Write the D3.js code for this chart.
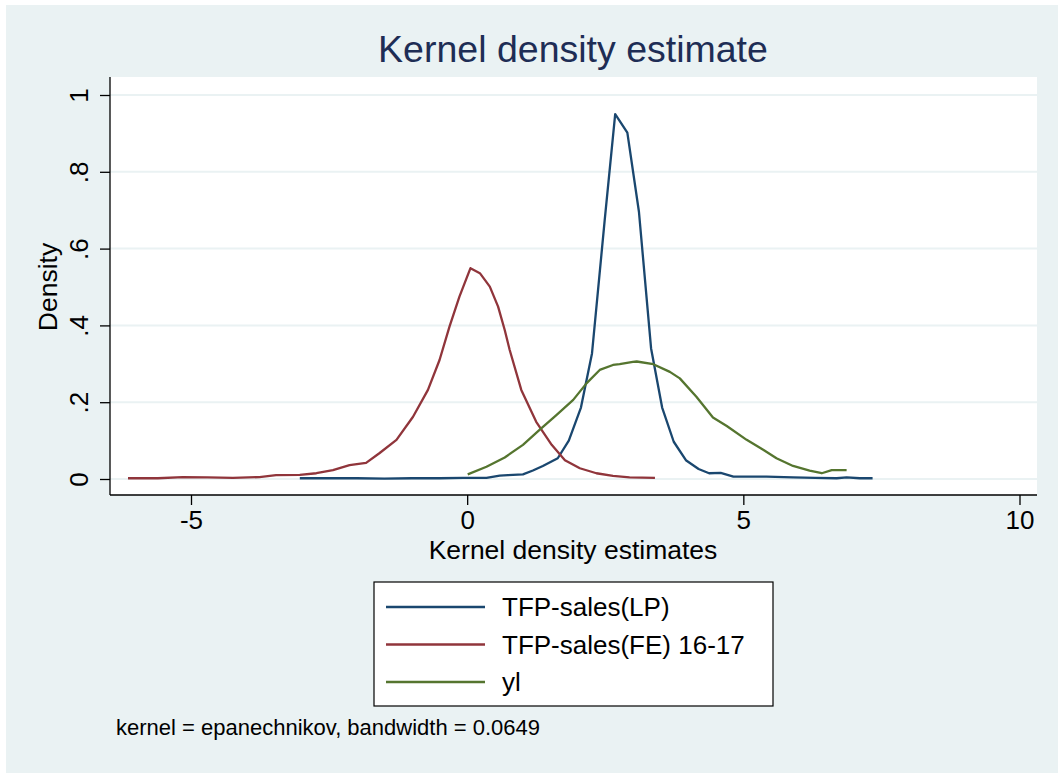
<html>
  <head>
    <meta charset="utf-8">
    <style>
      body { margin: 0; background: #ffffff; }
      text { font-family: 'Liberation Sans', Arial, sans-serif; }
    </style>
  </head>
  <body>
    <script src="https://d3js.org/d3.v7.min.js"></script>

    <svg id="kdensity" width="1058" height="773"></svg>

    <script>
      // density curves, [x, density]
      const lpCurve = [
        [-3.03, 0.002], [-2.5, 0.002], [-2.0, 0.002], [-1.5, 0.001], [-1.0, 0.002],
        [-0.5, 0.002], [-0.08, 0.003], [0.35, 0.003], [0.59, 0.009], [0.74, 0.01],
        [1.01, 0.012], [1.19, 0.022], [1.37, 0.034], [1.64, 0.054], [1.84, 0.1],
        [2.06, 0.186], [2.26, 0.327], [2.49, 0.674], [2.68, 0.95], [2.9, 0.902],
        [3.11, 0.696], [3.33, 0.34], [3.53, 0.186], [3.74, 0.097], [3.96, 0.049],
        [4.19, 0.026], [4.38, 0.015], [4.59, 0.016], [4.82, 0.006], [5.42, 0.006],
        [5.9, 0.004], [6.3, 0.003], [6.69, 0.002], [6.87, 0.004], [7.11, 0.002],
        [7.34, 0.002],
      ];
      const feCurve = [
        [-6.14, 0.002], [-5.6, 0.002], [-5.15, 0.005], [-4.7, 0.004], [-4.24, 0.003],
        [-3.76, 0.005], [-3.46, 0.01], [-3.03, 0.011], [-2.73, 0.015], [-2.43, 0.023],
        [-2.13, 0.036], [-1.83, 0.042], [-1.59, 0.067], [-1.28, 0.102], [-0.98, 0.162],
        [-0.71, 0.232], [-0.5, 0.31], [-0.32, 0.397], [-0.14, 0.475], [0.0, 0.527],
        [0.06, 0.549], [0.23, 0.536], [0.41, 0.501], [0.56, 0.449], [0.68, 0.388],
        [0.77, 0.336], [0.98, 0.232], [1.25, 0.149], [1.53, 0.089], [1.77, 0.049],
        [2.04, 0.028], [2.34, 0.015], [2.64, 0.008], [2.94, 0.004], [3.4, 0.003],
      ];
      const ylCurve = [
        [0.01, 0.012], [0.35, 0.032], [0.68, 0.056], [1.01, 0.089], [1.31, 0.128],
        [1.62, 0.167], [1.92, 0.206], [2.16, 0.249], [2.4, 0.284], [2.64, 0.297],
        [2.76, 0.299], [3.0, 0.305], [3.07, 0.306], [3.37, 0.299], [3.67, 0.279],
        [3.85, 0.262], [4.15, 0.214], [4.45, 0.16], [4.7, 0.138], [5.06, 0.102],
        [5.36, 0.076], [5.6, 0.054], [5.9, 0.034], [6.2, 0.022], [6.42, 0.015],
        [6.6, 0.023], [6.87, 0.023],
      ];

      const seriesNames = ['TFP-sales(LP)', 'TFP-sales(FE) 16-17', 'yl'];
      const seriesColors = ['#1a476f', '#90353b', '#55752f'];
      const xTicks = [-5, 0, 5, 10];
      const xTickLabels = ['-5', '0', '5', '10'];
      const yTicks = [0, 0.2, 0.4, 0.6, 0.8, 1];
      const yTickLabels = ['0', '.2', '.4', '.6', '.8', '1'];

      const plot = { left: 110, right: 1037, top: 77, bottom: 495 };

      const svg = d3.select('#kdensity');

      // stata graph region
      svg.append('rect')
        .attr('x', 6).attr('y', 5)
        .attr('width', 1052).attr('height', 768)
        .attr('fill', '#eaf2f3');

      svg.append('rect')
        .attr('x', plot.left).attr('y', plot.top)
        .attr('width', plot.right - plot.left)
        .attr('height', plot.bottom - plot.top)
        .attr('fill', '#ffffff');

      const x = d3.scaleLinear().domain([-5, 10]).range([191, 1019.5]);
      const y = d3.scaleLinear().domain([0, 1]).range([479, 95]);

      // grid
      svg.append('g')
        .selectAll('line')
        .data(yTicks)
        .enter()
        .append('line')
        .attr('x1', plot.left).attr('x2', plot.right)
        .attr('y1', (d) => y(d)).attr('y2', (d) => y(d))
        .attr('stroke', '#eaf2f3')
        .attr('stroke-width', 2);

      // curves
      const line = d3.line()
        .x((d) => x(d[0]))
        .y((d) => y(d[1]));

      svg.append('g')
        .selectAll('path')
        .data([lpCurve, feCurve, ylCurve])
        .enter()
        .append('path')
        .attr('d', line)
        .attr('fill', 'none')
        .attr('stroke', (_, i) => seriesColors[i])
        .attr('stroke-width', 2.3)
        .attr('stroke-linejoin', 'round');

      // x axis
      const xAxis = svg.append('g')
        .attr('transform', `translate(0,${plot.bottom})`)
        .call(d3.axisBottom(x).tickValues(xTicks).tickSize(10).tickPadding(6)
          .tickFormat((_, i) => xTickLabels[i]));
      xAxis.select('.domain').remove();
      xAxis.selectAll('.tick line').attr('stroke', '#000').attr('stroke-width', 1.3);
      xAxis.selectAll('.tick text')
        .attr('fill', '#000')
        .attr('font-size', 26)
        .attr('font-family', "'Liberation Sans', Arial, sans-serif");
      svg.append('line')
        .attr('x1', plot.left).attr('x2', plot.right)
        .attr('y1', plot.bottom).attr('y2', plot.bottom)
        .attr('stroke', '#000').attr('stroke-width', 1.3);

      // y axis
      const yAxis = svg.append('g')
        .attr('transform', `translate(${plot.left},0)`)
        .call(d3.axisLeft(y).tickValues(yTicks).tickSize(10)
          .tickFormat((_, i) => yTickLabels[i]));
      yAxis.select('.domain').remove();
      yAxis.selectAll('.tick line').attr('stroke', '#000').attr('stroke-width', 1.3);
      yAxis.selectAll('.tick text')
        .attr('x', null).attr('dy', null)
        .attr('transform', 'translate(-22,0) rotate(-90)')
        .attr('text-anchor', 'middle')
        .attr('fill', '#000')
        .attr('font-size', 26)
        .attr('font-family', "'Liberation Sans', Arial, sans-serif");
      svg.append('line')
        .attr('x1', plot.left).attr('x2', plot.left)
        .attr('y1', plot.top).attr('y2', plot.bottom)
        .attr('stroke', '#000').attr('stroke-width', 1.3);

      // titles
      svg.append('text')
        .text('Kernel density estimate')
        .attr('x', 573).attr('y', 62)
        .attr('text-anchor', 'middle')
        .attr('font-size', 37.5)
        .attr('fill', '#1e2d55');

      svg.append('text')
        .text('Kernel density estimates')
        .attr('x', 573).attr('y', 559)
        .attr('text-anchor', 'middle')
        .attr('font-size', 26.5);

      svg.append('text')
        .text('Density')
        .attr('transform', 'translate(57,287) rotate(-90)')
        .attr('text-anchor', 'middle')
        .attr('font-size', 26.5);

      // legend
      const legend = svg.append('g');
      legend.append('rect')
        .attr('x', 374).attr('y', 582)
        .attr('width', 399).attr('height', 124)
        .attr('fill', '#ffffff')
        .attr('stroke', '#000')
        .attr('stroke-width', 1.2);

      legend.selectAll('line')
        .data(seriesNames)
        .enter()
        .append('line')
        .attr('x1', 386).attr('x2', 485)
        .attr('y1', (_, i) => 607 + i * 37.5)
        .attr('y2', (_, i) => 607 + i * 37.5)
        .attr('stroke', (_, i) => seriesColors[i])
        .attr('stroke-width', 2.3);

      legend.selectAll('text')
        .data(seriesNames)
        .enter()
        .append('text')
        .text((d) => d)
        .attr('x', 502)
        .attr('y', (_, i) => 616 + i * 37.5)
        .attr('font-size', 26);

      svg.append('text')
        .text('kernel = epanechnikov, bandwidth = 0.0649')
        .attr('x', 116).attr('y', 735)
        .attr('font-size', 22);
    </script>
  </body>
</html>
